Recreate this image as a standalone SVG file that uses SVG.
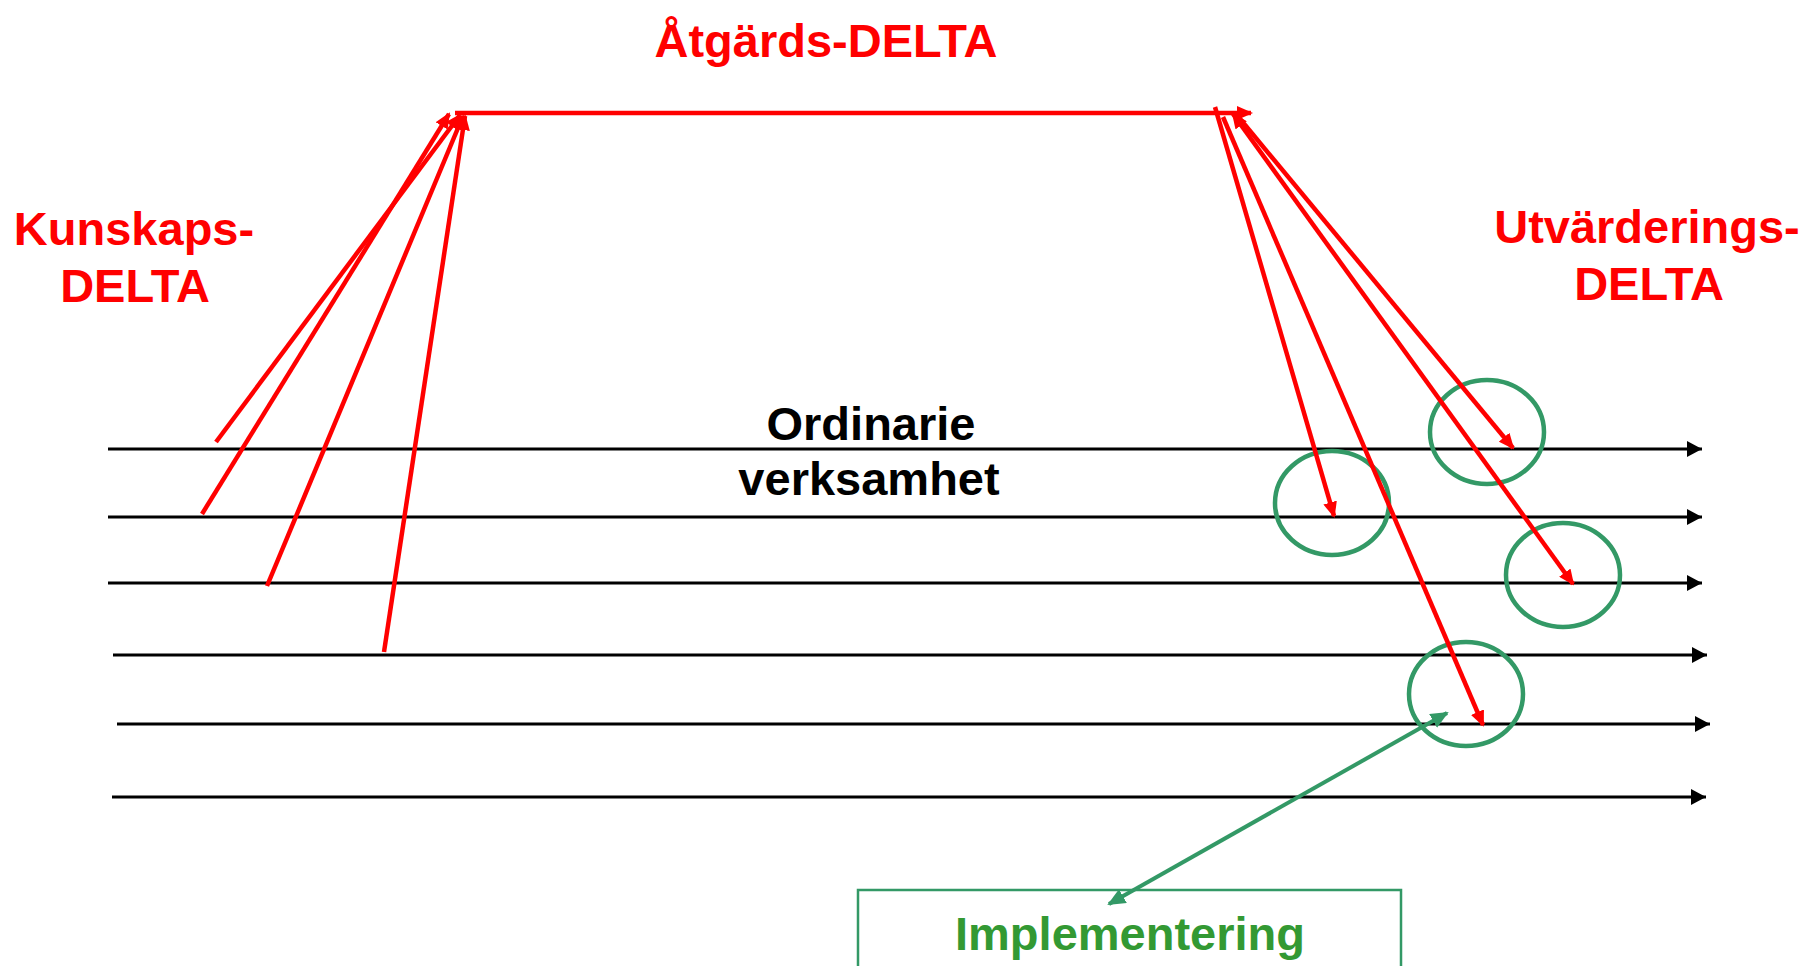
<svg xmlns="http://www.w3.org/2000/svg" width="1808" height="966" viewBox="0 0 1808 966">
<style>
.t{font-family:"Liberation Sans",Arial,sans-serif;font-weight:bold;font-size:47px;text-anchor:middle}
.red{fill:#ff0000}
.blk{fill:#000000}
.grn{fill:#339933}
.bl{stroke:#000;stroke-width:2.8;fill:none;marker-end:url(#ab)}
.rl{stroke:#ff0000;stroke-width:4.5;fill:none}
.ring{stroke:#339966;stroke-width:4.5;fill:none}
</style>
<defs>
<marker id="ab" viewBox="0 0 15 16" refX="15" refY="8" markerWidth="15" markerHeight="16" markerUnits="userSpaceOnUse" orient="auto"><path d="M0,0 L15,8 L0,16 z" fill="#000"/></marker>
<marker id="ar" viewBox="0 0 16 14" refX="14" refY="7" markerWidth="16" markerHeight="14" markerUnits="userSpaceOnUse" orient="auto"><path d="M0,0 L16,7 L0,14 z" fill="#ff0000"/></marker>
<marker id="ars" viewBox="0 0 16 14" refX="2" refY="7" markerWidth="16" markerHeight="14" markerUnits="userSpaceOnUse" orient="auto"><path d="M16,0 L0,7 L16,14 z" fill="#ff0000"/></marker>
<marker id="ag" viewBox="0 0 18 16" refX="16" refY="8" markerWidth="18" markerHeight="16" markerUnits="userSpaceOnUse" orient="auto"><path d="M0,0 L18,8 L0,16 z" fill="#339966"/></marker>
<marker id="ags" viewBox="0 0 18 16" refX="2" refY="8" markerWidth="18" markerHeight="16" markerUnits="userSpaceOnUse" orient="auto"><path d="M18,0 L0,8 L18,16 z" fill="#339966"/></marker>
</defs>
<rect width="1808" height="966" fill="#fff"/>
<g id="labels">
<text class="t red" x="826" y="57">Åtgärds-DELTA</text>
<text class="t red" x="134" y="245">Kunskaps-</text>
<text class="t red" x="135" y="302">DELTA</text>
<text class="t red" x="1647" y="243">Utvärderings-</text>
<text class="t red" x="1649" y="300">DELTA</text>
<text class="t blk" x="871" y="440">Ordinarie</text>
<text class="t blk" x="869" y="495">verksamhet</text>
</g>
<g id="timelines">
<line class="bl" x1="108" y1="449" x2="1702" y2="449"/>
<line class="bl" x1="108" y1="517" x2="1702" y2="517"/>
<line class="bl" x1="108" y1="583" x2="1702" y2="583"/>
<line class="bl" x1="113" y1="655" x2="1707" y2="655"/>
<line class="bl" x1="117" y1="724" x2="1710" y2="724"/>
<line class="bl" x1="112" y1="797" x2="1706" y2="797"/>
</g>
<g id="circles">
<ellipse class="ring" cx="1487" cy="432" rx="57" ry="52"/>
<ellipse class="ring" cx="1332" cy="503" rx="57" ry="52"/>
<ellipse class="ring" cx="1563" cy="575" rx="57" ry="52"/>
<ellipse class="ring" cx="1466" cy="694" rx="57" ry="52"/>
</g>
<g id="connectors">
<line class="rl" x1="455" y1="113" x2="1251" y2="113" stroke-width="5" marker-end="url(#ar)"/>
<line class="rl" x1="216" y1="442" x2="460" y2="115" marker-end="url(#ar)"/>
<line class="rl" x1="202" y1="514" x2="449" y2="114" marker-end="url(#ar)"/>
<line class="rl" x1="267" y1="586" x2="463" y2="116" marker-end="url(#ar)"/>
<line class="rl" x1="384" y1="652" x2="465" y2="116" marker-end="url(#ar)"/>
<line class="rl" x1="1215" y1="107" x2="1334" y2="516" marker-end="url(#ar)"/>
<line class="rl" x1="1223" y1="117" x2="1483" y2="725" marker-end="url(#ar)"/>
<line class="rl" x1="1236" y1="114" x2="1513" y2="448" marker-end="url(#ar)"/>
<line class="rl" x1="1233" y1="114" x2="1573" y2="584" marker-start="url(#ars)" marker-end="url(#ar)"/>
<line x1="1109" y1="904" x2="1447" y2="713" stroke="#339966" stroke-width="4" marker-start="url(#ags)" marker-end="url(#ag)"/>
</g>
<g id="implementering">
<rect x="858" y="890" width="543" height="90" fill="none" stroke="#339966" stroke-width="2.5"/>
<text class="t grn" x="1130" y="950">Implementering</text>
</g>
</svg>
